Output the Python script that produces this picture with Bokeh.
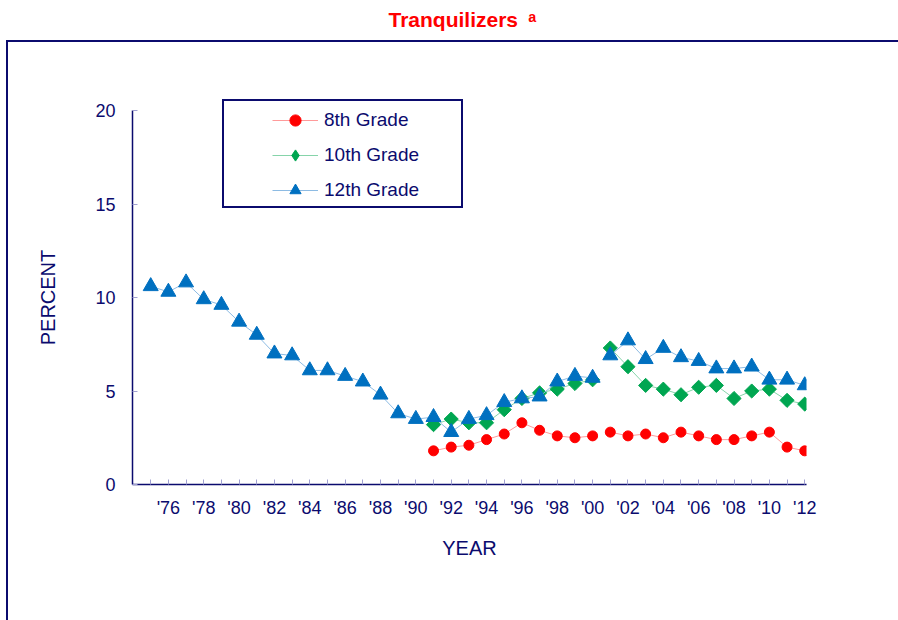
import math
import pandas as pd
from bokeh.plotting import figure
from bokeh.models import (Range1d, FixedTicker, Legend, LegendItem,
                          InlineStyleSheet, Title)
from bokeh.embed import file_html
from bokeh.resources import INLINE

# ---------------- data ----------------
years_12 = list(range(1975, 2013))
grade12 = [10.6, 10.3, 10.8, 9.9, 9.6, 8.7, 8.0, 7.0, 6.9, 6.1,
           6.1, 5.8, 5.5, 4.8, 3.8, 3.5, 3.6, 2.8, 3.5, 3.7,
           4.4, 4.6, 4.7, 5.5, 5.8, 5.7, 6.9, 7.7, 6.7, 7.3,
           6.8, 6.6, 6.2, 6.2, 6.3, 5.6, 5.6, 5.3]

years_8_10 = list(range(1991, 2013))
grade10 = [3.2, 3.5, 3.3, 3.3, 4.0, 4.6, 4.9, 5.1, 5.4, 5.6,
           7.3, 6.3, 5.3, 5.1, 4.8, 5.2, 5.3, 4.6, 5.0, 5.1,
           4.5, 4.3]
grade8 = [1.8, 2.0, 2.1, 2.4, 2.7, 3.3, 2.9, 2.6, 2.5, 2.6,
          2.8, 2.6, 2.7, 2.5, 2.8, 2.6, 2.4, 2.4, 2.6, 2.8,
          2.0, 1.8]

break_after = 2000  # lines are not joined between 2000 and 2001

tick_years = list(range(1975, 2013))
x_tick_labels = ["'76", "'78", "'80", "'82", "'84", "'86", "'88", "'90", "'92",
                 "'94", "'96", "'98", "'00", "'02", "'04", "'06", "'08", "'10", "'12"]
label_years = list(range(1976, 2013, 2))
y_ticks = [0, 5, 10, 15, 20]

series_names = ["8th Grade", "10th Grade", "12th Grade"]
title_text = "Tranquilizers\u2002\u1d43"

# ---------------- styles ----------------
NAVY = "#0b0b6e"
FONT = "Liberation Sans"
W, H = 898, 620

frame_css = InlineStyleSheet(css=f"""
:host {{ position: relative; }}
:host::before {{
  content: ''; position: absolute; z-index: 10; pointer-events: none;
  box-sizing: border-box; left: 222px; top: 99px; width: 241px; height: 109px;
  border: 2px solid {NAVY};
}}
:host::after {{
  content: ''; position: absolute; z-index: 10; pointer-events: none;
  box-sizing: border-box; left: 6px; top: 40px; right: 0px; bottom: 0px;
  border-top: 2px solid {NAVY}; border-left: 2px solid {NAVY};
}}
""")

p = figure(width=W, height=H, output_backend="svg", toolbar_location=None,
           title=None,
           x_range=Range1d(1973.97, 2012.1), y_range=Range1d(0, 20),
           min_border_left=132, min_border_right=92,
           min_border_top=110, min_border_bottom=136,
           background_fill_color="white", border_fill_color="white",
           stylesheets=[frame_css])
p.outline_line_color = None
p.grid.visible = False

# spacer between frame and title (closest to the frame), then the title
p.add_layout(Title(text=" ", text_font_size="1px", standoff=77), "above")
p.add_layout(Title(text=title_text, align="left", offset=256, standoff=0,
                   text_color="#ff0000", text_font=FONT,
                   text_font_style="bold", text_font_size="21px"), "above")

# axes
p.xaxis.ticker = FixedTicker(ticks=tick_years)
overrides = {y: "" for y in tick_years}
for y, lab in zip(label_years, x_tick_labels):
    overrides[y] = lab
p.xaxis.major_label_overrides = overrides
p.yaxis.ticker = FixedTicker(ticks=y_ticks)

for ax in (p.xaxis[0], p.yaxis[0]):
    ax.axis_line_color = NAVY
    ax.axis_line_width = 1.5
    ax.major_tick_line_color = "#a0a0d0"
    ax.major_tick_in = 5
    ax.major_tick_out = 0
    ax.minor_tick_line_color = None
    ax.major_label_text_color = NAVY
    ax.major_label_text_font = FONT
    ax.axis_label_text_color = NAVY
    ax.axis_label_text_font = FONT
    ax.axis_label_text_font_style = "normal"
    ax.axis_label_text_font_size = "20px"

p.xaxis.major_label_text_font_size = "18px"
p.yaxis.major_label_text_font_size = "18px"
p.xaxis.major_label_standoff = 13
p.yaxis.major_label_standoff = 17
p.xaxis.axis_label = "YEAR"
p.yaxis.axis_label = "PERCENT"
p.xaxis.axis_label_standoff = 16
p.yaxis.axis_label_standoff = 33

# ---------------- series ----------------
df12 = pd.DataFrame({"x": years_12, "y": grade12})
df10 = pd.DataFrame({"x": years_8_10, "y": grade10})
df8 = pd.DataFrame({"x": years_8_10, "y": grade8})

# (data, marker colour, line colour, plot marker, size, angle, legend marker)
specs = [
    (df8, "#ff0000", "#ff9a9a", "circle", 10, 0.0, "circle"),
    (df10, "#00a651", "#86d4aa", "square", 10, math.pi / 4, "diamond"),
    (df12, "#0070c0", "#8dbbe3", "triangle", 15, 0.0, "triangle"),
]

legend_items = []
for name, (df, mcol, lcol, marker, size, ang, lmarker) in zip(series_names, specs):
    seg1 = df[df.x <= break_after]
    seg2 = df[df.x > break_after]
    l1 = p.line(seg1.x, seg1.y, line_color=lcol, line_width=1)
    p.line(seg2.x, seg2.y, line_color=lcol, line_width=1)
    s = p.scatter(df.x, df.y, marker=marker, size=size, angle=ang,
                  fill_color=mcol, line_color=mcol)
    if lmarker != marker:
        # legend-only marker shape (not shown in the plot area)
        s_leg = p.scatter(df.x, df.y, marker=lmarker, size=size,
                          fill_color=mcol, line_color=mcol, visible=False)
        legend_items.append(LegendItem(label=name, renderers=[l1, s_leg]))
    else:
        legend_items.append(LegendItem(label=name, renderers=[l1, s]))

legend = Legend(items=legend_items, location=(140, 280),
                padding=0, spacing=7, margin=0,
                glyph_width=46, glyph_height=28, label_height=28,
                label_standoff=6,
                label_text_font=FONT, label_text_font_size="19px",
                label_text_color=NAVY,
                inactive_fill_alpha=0,
                border_line_alpha=0, background_fill_alpha=0)
p.add_layout(legend)

open("out.html", "w").write(file_html(p, INLINE))
